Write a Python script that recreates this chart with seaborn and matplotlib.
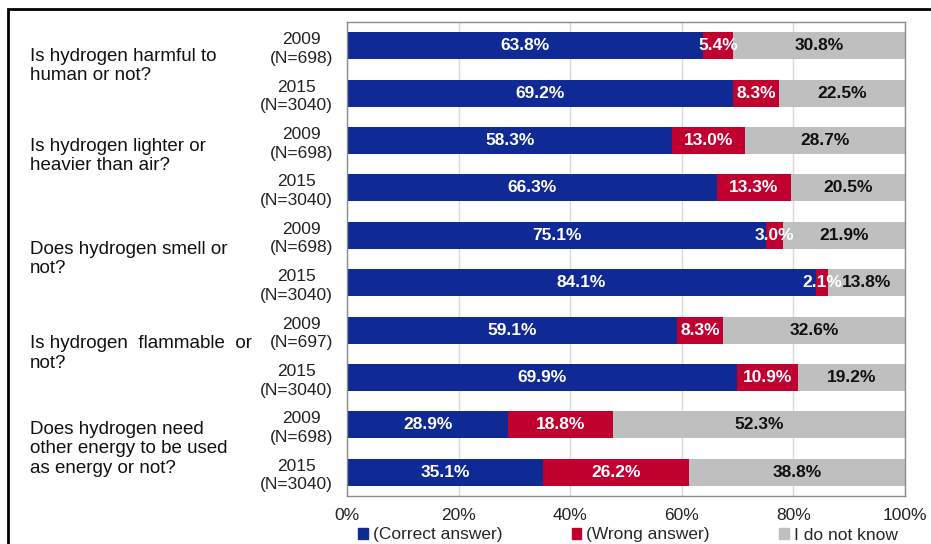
import matplotlib
matplotlib.use("Agg")
import matplotlib.pyplot as plt
from matplotlib.patches import Patch, Rectangle
from matplotlib.transforms import blended_transform_factory
import numpy as np
import pandas as pd
import seaborn as sns

# survey answers, top bar first
questions = [
    "Is hydrogen harmful to\nhuman or not?",
    "Is hydrogen lighter or\nheavier than air?",
    "Does hydrogen smell or\nnot?",
    "Is hydrogen  flammable  or\nnot?",
    "Does hydrogen need\nother energy to be used\nas energy or not?",
]
years = ["2009\n(N=698)", "2015\n(N=3040)",
         "2009\n(N=698)", "2015\n(N=3040)",
         "2009\n(N=698)", "2015\n(N=3040)",
         "2009\n(N=697)", "2015\n(N=3040)",
         "2009\n(N=698)", "2015\n(N=3040)"]
correct = [63.8, 69.2, 58.3, 66.3, 75.1, 84.1, 59.1, 69.9, 28.9, 35.1]
wrong = [5.4, 8.3, 13.0, 13.3, 3.0, 2.1, 8.3, 10.9, 18.8, 26.2]
dont_know = [30.8, 22.5, 28.7, 20.5, 21.9, 13.8, 32.6, 19.2, 52.3, 38.8]
series = ["(Correct answer)", "(Wrong answer)", "I do not know"]

blue = "#0f2a94"
red = "#c0002f"
gray = "#bfbfbf"

df = pd.DataFrame({"row": range(len(years)), "correct": correct,
                   "wrong": wrong, "dont_know": dont_know})
df["c1"] = df["correct"]
df["c2"] = df["c1"] + df["wrong"]
df["c3"] = df["c2"] + df["dont_know"]

sns.set_theme(style="white")
plt.rcParams["font.family"] = ["Liberation Sans", "DejaVu Sans"]

fig = plt.figure(figsize=(9.31, 5.44), dpi=100)
ax = fig.add_axes([347 / 931, 1 - 496 / 544, 558 / 931, 474 / 544])

# stacked bars: draw cumulative totals back to front
for col, c in [("c3", gray), ("c2", red), ("c1", blue)]:
    sns.barplot(data=df, x=col, y="row", orient="y", color=c,
                saturation=1, width=0.57, ax=ax, linewidth=0)

for i in range(len(years)):
    lefts = [0, correct[i], correct[i] + wrong[i]]
    vals = [correct[i], wrong[i], dont_know[i]]
    cols = ["white", "white", "#111111"]
    for l, v, tc in zip(lefts, vals, cols):
        ax.text(l + v / 2, i, f"{v:.1f}%", ha="center", va="center",
                color=tc, fontsize=12.5, fontweight="bold")

ax.set_xlim(0, 100)
ax.set_ylim(len(years) - 0.5, -0.5)
ax.set_xticks([0, 20, 40, 60, 80, 100])
ax.set_xticklabels(["0%", "20%", "40%", "60%", "80%", "100%"], fontsize=12.5)
ax.set_yticks(range(len(years)))
ax.set_yticklabels(years, fontsize=12.5, multialignment="center",
                   linespacing=1.3)
ax.tick_params(axis="both", length=0, colors="#222222")
ax.tick_params(axis="x", pad=9)
ax.tick_params(axis="y", pad=10)
ax.set_xlabel("")
ax.set_ylabel("")
ax.xaxis.grid(True, color="#d9d9d9", lw=1)
ax.set_axisbelow(True)
for s in ax.spines.values():
    s.set_visible(True)
    s.set_color("#8c8c8c")
    s.set_linewidth(1)

# question labels on the far left
tr = blended_transform_factory(fig.transFigure, ax.transData)
q_shift = [-0.07, -0.17, 0, 0, 0]
for k, q in enumerate(questions):
    ax.text(30 / 931, 2 * k + 0.5 + q_shift[k], q, transform=tr,
            ha="left", va="center", fontsize=13.5, linespacing=1.2,
            color="#111111")

handles = [Patch(color=c) for c in [blue, red, gray]]
fig.legend(handles, series, loc="center", ncol=3, frameon=False,
           bbox_to_anchor=(628 / 931, 1 - 535 / 544), fontsize=12.5,
           handlelength=0.55, handleheight=0.55, handletextpad=0.3,
           columnspacing=4.0, borderpad=0)

# outer border of the slide
fig.patches.append(Rectangle((8 / 931, -0.1), 1.2, 1.1 - 9 / 544,
                             transform=fig.transFigure, fill=False,
                             edgecolor="black", lw=2))

fig.savefig("out.png", dpi=100)
